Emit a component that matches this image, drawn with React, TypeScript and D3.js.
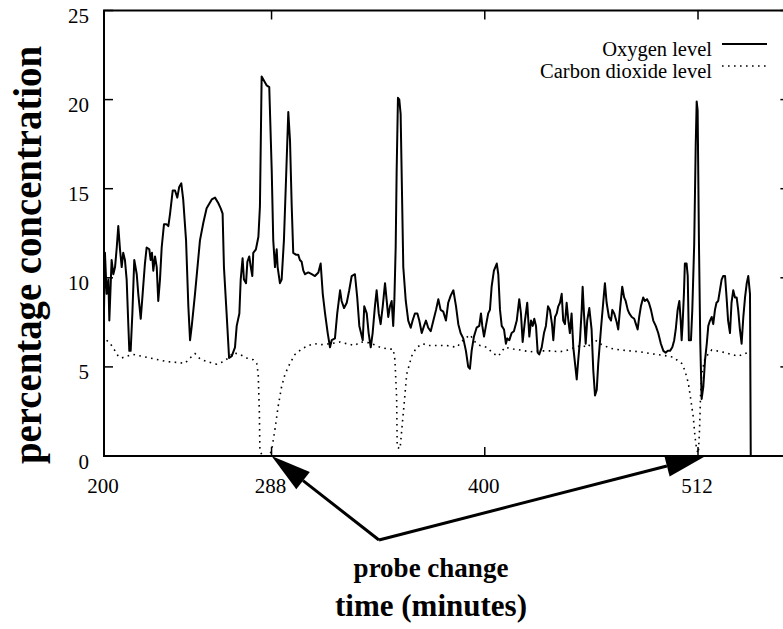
import React from 'react';
import * as d3 from 'd3';

const xTicks = [200, 288, 400, 512];
const yTicks = [0, 5, 10, 15, 20, 25];
const seriesNames = ['Oxygen level', 'Carbon dioxide level'];
const xTitle = 'time (minutes)';
const yTitle = 'percentage concentration';
const annotationText = 'probe change';
const annotationTargets: [number, number][] = [[288, 0], [516, 0]];

const oxygen: [number, number][] = [
  [200.0,8.2],[200.5,11.4],[201.4,9.1],[202.3,9.9],[202.8,7.6],[204.0,11.0],[204.9,10.2],[205.8,10.6],[206.7,11.7],[207.5,12.9],[208.4,11.6],[209.3,10.6],[210.1,11.4],[211.0,11.0],[211.9,9.9],[212.8,7.3],[213.3,5.9],[214.0,5.9],[214.9,8.0],[215.9,11.0],[217.2,10.2],[218.0,9.1],[219.3,7.7],[220.3,9.1],[221.5,10.8],[222.4,11.7],[223.8,11.6],[224.5,11.0],[225.2,11.4],[225.9,10.4],[226.8,11.2],[227.7,10.6],[228.5,8.7],[229.4,9.9],[230.3,11.7],[231.5,13.0],[232.9,13.0],[233.8,12.9],[234.7,13.6],[236.1,14.9],[237.3,14.9],[238.5,14.5],[239.5,15.1],[240.6,15.3],[241.6,14.4],[243.1,12.1],[244.3,8.4],[245.2,6.5],[246.1,7.3],[247.8,9.1],[250.4,12.1],[252.2,13.1],[253.9,13.9],[256.6,14.4],[258.3,14.5],[260.0,14.2],[261.3,13.9],[262.3,13.6],[263.0,10.6],[264.4,8.0],[265.7,5.5],[267.1,5.6],[268.8,6.1],[269.7,7.3],[271.1,8.0],[271.8,9.9],[272.8,11.1],[273.5,9.9],[274.6,9.7],[275.3,10.9],[276.3,11.2],[277.1,10.6],[277.9,10.1],[278.4,11.4],[279.8,11.6],[281.1,12.3],[281.9,14.0],[282.8,21.3],[285.4,20.8],[286.8,20.7],[288.1,16.0],[288.9,12.1],[289.8,10.6],[290.7,11.6],[291.2,10.6],[292.4,9.7],[293.3,9.9],[294.5,12.1],[295.6,15.5],[296.8,19.3],[297.7,17.7],[298.6,14.0],[299.4,11.4],[300.8,11.3],[302.0,11.3],[302.9,11.0],[303.8,10.9],[304.7,10.4],[305.6,10.2],[307.3,10.3],[309.1,10.2],[310.8,10.1],[312.6,10.3],[313.8,10.8],[314.9,9.1],[316.1,8.0],[317.5,6.9],[318.7,6.1],[319.6,6.5],[321.3,6.6],[322.5,8.0],[324.0,9.3],[324.8,8.7],[326.1,8.3],[327.5,8.6],[328.8,9.3],[330.1,10.1],[331.8,10.2],[333.0,8.9],[334.1,7.3],[335.0,6.9],[335.9,6.5],[336.7,8.4],[338.0,8.0],[339.0,6.9],[340.1,6.1],[341.1,6.9],[342.3,8.4],[343.2,9.3],[344.3,8.0],[345.3,7.4],[346.4,8.4],[347.6,9.7],[348.5,8.7],[349.3,7.8],[350.2,8.4],[351.1,8.7],[351.9,7.3],[352.5,8.7],[353.2,11.7],[353.7,15.9],[354.4,20.1],[355.1,20.0],[355.8,19.2],[356.4,15.5],[357.2,10.6],[358.5,8.7],[359.8,7.6],[361.1,7.2],[362.1,7.6],[363.3,8.0],[364.6,8.0],[365.6,7.6],[366.9,6.9],[368.1,7.3],[369.1,7.6],[370.3,7.2],[371.6,7.0],[373.0,7.6],[374.4,8.2],[375.6,8.8],[376.8,8.2],[378.2,8.1],[379.6,7.6],[380.8,8.6],[382.1,9.0],[383.5,9.3],[384.9,8.4],[386.1,7.4],[387.3,6.9],[388.7,6.6],[390.1,5.9],[391.3,5.0],[392.2,4.9],[393.1,5.9],[394.3,6.7],[395.7,7.2],[397.1,7.3],[398.0,8.0],[398.7,7.3],[399.6,6.7],[400.6,7.3],[401.8,8.0],[402.7,8.2],[403.6,9.5],[404.8,10.4],[406.3,10.8],[407.1,10.2],[408.0,8.2],[408.9,7.3],[410.1,7.1],[411.1,6.3],[411.8,6.6],[412.9,6.5],[414.1,6.9],[415.3,7.0],[416.8,7.6],[418.1,8.8],[419.0,8.0],[419.9,6.4],[421.1,7.6],[422.3,8.6],[423.4,6.7],[424.3,7.6],[425.2,7.3],[426.0,7.7],[426.9,7.3],[427.8,5.8],[428.6,5.7],[429.9,6.1],[431.1,6.9],[432.1,7.3],[433.2,8.4],[434.2,8.2],[435.3,7.4],[436.0,6.5],[436.9,7.8],[437.8,8.0],[438.6,8.4],[439.5,8.6],[440.4,9.1],[441.2,7.6],[442.1,7.4],[443.0,8.6],[443.9,7.6],[444.7,6.9],[445.6,8.0],[446.5,6.1],[447.4,5.2],[448.3,4.3],[449.1,5.4],[450.0,6.5],[450.9,8.2],[451.4,9.5],[452.1,8.0],[453.0,6.3],[453.8,7.6],[454.9,8.3],[456.1,7.1],[457.0,4.8],[457.9,3.4],[458.8,3.7],[459.6,5.2],[461.0,7.1],[462.2,8.6],[463.1,9.7],[464.0,8.6],[465.2,7.8],[466.3,7.6],[467.0,8.2],[468.0,8.0],[469.3,7.5],[470.1,7.1],[471.0,8.2],[472.2,9.5],[473.2,8.9],[474.0,8.7],[475.1,8.2],[475.9,8.0],[477.2,7.8],[478.5,7.7],[479.4,7.4],[480.3,7.1],[481.1,7.8],[482.0,8.4],[483.2,8.9],[484.1,8.7],[485.2,8.8],[486.2,8.6],[487.3,8.2],[488.5,7.6],[489.8,7.3],[491.1,6.9],[492.5,6.3],[493.8,5.9],[495.0,5.8],[496.1,5.9],[497.3,5.9],[498.5,6.1],[499.5,6.5],[500.3,7.1],[501.3,8.2],[502.2,8.7],[502.9,7.6],[503.4,6.5],[503.9,7.4],[504.6,9.1],[505.1,10.8],[506.0,10.8],[506.6,10.1],[507.2,6.5],[508.3,6.5],[509.0,8.2],[510.0,11.9],[510.8,17.5],[511.3,19.9],[511.8,19.4],[512.5,11.9],[513.2,6.3],[513.9,3.2],[514.8,3.9],[515.7,5.4],[516.6,6.3],[517.4,7.3],[518.3,7.6],[519.2,7.8],[520.0,7.4],[520.9,8.2],[521.7,8.6],[522.6,8.7],[523.5,9.3],[524.4,9.9],[525.2,10.1],[526.2,10.1],[527.0,8.9],[527.8,7.6],[528.8,6.9],[529.6,8.6],[530.5,9.3],[531.4,8.9],[532.3,8.9],[533.1,8.2],[534.0,7.1],[534.9,6.3],[535.8,7.8],[536.7,8.9],[537.6,9.7],[538.4,10.1],[539.3,9.1],[539.7,0]
];

const carbonDioxide: [number, number][] = [
  [201.4,6.5],[204.0,6.2],[205.8,5.9],[207.5,5.6],[209.3,5.5],[211.9,5.6],[215.4,5.7],[219.8,5.6],[224.2,5.5],[228.5,5.4],[232.9,5.3],[238.2,5.25],[242.5,5.2],[245.2,5.5],[247.8,5.75],[250.4,5.45],[253.9,5.3],[259.2,5.15],[262.7,5.3],[265.3,5.5],[267.9,5.8],[271.4,5.7],[274.9,5.5],[278.4,5.4],[280.2,5.2],[281.0,4.6],[281.6,2.5],[281.9,0.3],[283.0,0.05],[285.1,0.0],[287.2,0.1],[288.1,0.35],[289.8,1.5],[291.5,2.8],[293.3,3.9],[295.1,4.6],[297.7,5.2],[300.3,5.7],[303.8,6.0],[307.3,6.2],[310.8,6.3],[314.3,6.25],[318.7,6.3],[324.0,6.4],[327.5,6.3],[331.8,6.2],[334.5,6.4],[339.7,6.35],[345.0,6.1],[349.3,6.0],[351.9,6.0],[352.8,5.4],[353.7,3.3],[354.0,0.5],[355.5,0.4],[357.2,2.4],[359.0,4.6],[361.6,5.6],[364.2,6.1],[367.7,6.3],[369.5,6.2],[374.7,6.2],[380.0,6.2],[385.2,6.1],[388.7,6.5],[392.2,6.8],[394.9,6.4],[397.5,6.2],[401.0,6.1],[404.5,5.75],[407.1,5.6],[410.6,6.1],[415.0,6.0],[418.5,5.95],[423.7,5.85],[429.0,5.9],[434.2,5.9],[439.5,5.85],[443.9,5.95],[447.4,6.1],[450.9,6.2],[454.3,6.1],[456.9,6.6],[460.5,6.3],[465.7,6.05],[471.0,5.95],[476.2,5.9],[481.5,5.85],[486.8,5.75],[493.7,5.65],[499.0,5.55],[500.8,5.4],[503.4,5.2],[505.1,4.8],[506.9,4.1],[508.3,3.1],[509.5,2.2],[510.4,1.1],[511.3,0.35],[512.2,0.15],[512.8,1.5],[513.3,3.3],[513.9,4.6],[515.7,5.5],[519.2,5.95],[524.4,5.85],[529.6,5.7],[533.1,5.6],[536.7,5.75],[539.3,5.85]
];

const W = 783;
const H = 629;
const serif = '"Liberation Serif", "Times New Roman", serif';

export default function App() {
  const left = 104, right = 789.4, top = 10.5, bottom = 456;
  const x = d3.scaleLinear().domain([200, 560]).range([left, right]);
  const y = d3.scaleLinear().domain([0, 25]).range([bottom, top]);
  const line = d3.line<[number, number]>().x(d => x(d[0])).y(d => y(d[1]));
  const tickLen = 9;

  const arrowStart: [number, number] = [379, 540];
  const arrows = annotationTargets.map(([tx, ty]) => {
    const T: [number, number] = [x(tx), y(ty)];
    const dx = T[0] - arrowStart[0], dy = T[1] - arrowStart[1];
    const len = Math.hypot(dx, dy);
    const ux = dx / len, uy = dy / len;
    const L = 40, w = 11;
    const B = [T[0] - ux * L, T[1] - uy * L];
    const nx = -uy, ny = ux;
    const head = `M${T[0]},${T[1]}L${B[0] + nx * w},${B[1] + ny * w}L${B[0] - nx * w},${B[1] - ny * w}Z`;
    return { head, B };
  });

  return (
    <svg width={W} height={H} style={{ position: 'absolute', left: 0, top: 0, background: '#fff' }}
      fontFamily={serif}>
      <defs>
        <clipPath id="plot">
          <rect x={left} y={top - 2} width={right - left} height={bottom - top + 4} />
        </clipPath>
      </defs>
      <rect x={0} y={0} width={W} height={H} fill="#fff" />
      <rect x={left} y={top} width={right - left} height={bottom - top} fill="none" stroke="#000" strokeWidth={2} />
      {yTicks.map(t => (
        <g key={'y' + t}>
          <line x1={left} x2={left + tickLen} y1={y(t)} y2={y(t)} stroke="#000" strokeWidth={1.5} />
          <line x1={right} x2={right - tickLen} y1={y(t)} y2={y(t)} stroke="#000" strokeWidth={1.5} />
          <text x={89} y={y(t) + 12.5} textAnchor="end" fontSize={21}>{t}</text>
        </g>
      ))}
      {xTicks.map(t => (
        <g key={'x' + t}>
          <line x1={x(t)} x2={x(t)} y1={bottom} y2={bottom - tickLen} stroke="#000" strokeWidth={1.5} />
          <line x1={x(t)} x2={x(t)} y1={top} y2={top + tickLen} stroke="#000" strokeWidth={1.5} />
          <text x={x(t) - 1} y={492.5} textAnchor="middle" fontSize={21}>{t}</text>
        </g>
      ))}
      <g clipPath="url(#plot)">
        <path d={line(carbonDioxide) || ''} fill="none" stroke="#000" strokeWidth={1.6} strokeDasharray="1.6 4.4" />
        <path d={line(oxygen) || ''} fill="none" stroke="#000" strokeWidth={2} strokeLinejoin="round" />
      </g>
      <text x={712} y={56} textAnchor="end" fontSize={20.5}>{seriesNames[0]}</text>
      <line x1={722} x2={767} y1={44} y2={44} stroke="#000" strokeWidth={2} />
      <text x={712} y={78} textAnchor="end" fontSize={20.5}>{seriesNames[1]}</text>
      <line x1={722} x2={766} y1={66} y2={66} stroke="#000" strokeWidth={1.6} strokeDasharray="1.6 4.4" />
      {arrows.map((a, i) => (
        <g key={'a' + i}>
          <line x1={arrowStart[0]} y1={arrowStart[1]} x2={a.B[0]} y2={a.B[1]} stroke="#000" strokeWidth={3} />
          <path d={a.head} fill="#000" />
        </g>
      ))}
      <text x={431} y={577} textAnchor="middle" fontSize={27} fontWeight="bold">{annotationText}</text>
      <text x={431} y={616} textAnchor="middle" fontSize={31} fontWeight="bold">{xTitle}</text>
      <text transform={`translate(41,255) rotate(-90)`} textAnchor="middle" fontSize={41} fontWeight="bold"
        textLength={418} lengthAdjust="spacingAndGlyphs">{yTitle}</text>
    </svg>
  );
}
